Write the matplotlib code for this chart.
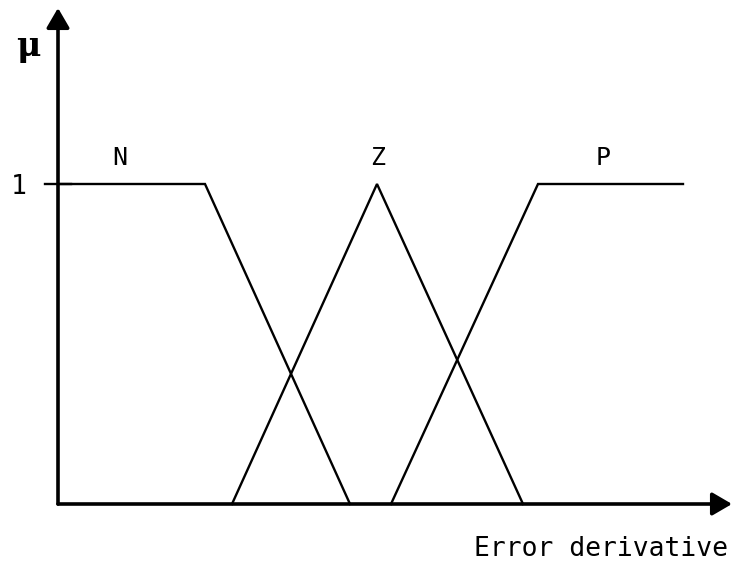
import matplotlib
matplotlib.use("Agg")
import matplotlib.pyplot as plt
from matplotlib.patches import FancyArrowPatch

# Membership function breakpoints (x in arbitrary units, y = membership)
labels = ["N", "Z", "P"]
n_x = [0.0, 1.47, 2.92]
n_y = [1, 1, 0]
z_x = [1.74, 3.19, 4.65]
z_y = [0, 1, 0]
p_x = [3.33, 4.80, 6.25]
p_y = [0, 1, 1]
label_x = [0.62, 3.20, 5.45]

W, H = 735, 563
fig = plt.figure(figsize=(W / 100, H / 100), dpi=100)
ox, oy = 58, 504
ax = fig.add_axes([ox / W, (H - oy) / H, (W - ox) / W, oy / H])
ax.set_xlim(0, (W - ox) / 100)
ax.set_ylim(0, oy / 320)
ax.axis("off")
x_end = (W - 3 - ox) / 100
y_end = (oy - 8) / 320

font = "DejaVu Sans Mono"
for xs, ys in [(n_x, n_y), (z_x, z_y), (p_x, p_y)]:
    ax.plot(xs, ys, color="black", lw=1.7, clip_on=False, solid_joinstyle="miter")

# axes with arrows
for start, end in [((0, 0), (0, y_end)), ((0, 0), (x_end, 0))]:
    arr = FancyArrowPatch(start, end, arrowstyle="-|>,head_length=12,head_width=7",
                          mutation_scale=1, lw=2.6, color="black",
                          shrinkA=0, shrinkB=0, clip_on=False)
    ax.add_patch(arr)

# tick at 1
ax.plot([-0.13, 0.13], [1, 1], color="black", lw=1.7, clip_on=False)
ax.text(-0.39, 0.99, "1", family=font, fontsize=19, ha="center", va="center")

for lab, lx in zip(labels, label_x):
    ax.text(lx, 1.08, lab, family=font, fontsize=18, ha="center", va="center")

ax.text(-0.30, 1.43, "\u03bc", family="DejaVu Serif", fontsize=24, fontweight="bold",
        ha="center", va="center")
ax.text(5.43, -0.14, "Error derivative", family=font, fontsize=19,
        ha="center", va="center")

fig.savefig("out.png", dpi=100)
